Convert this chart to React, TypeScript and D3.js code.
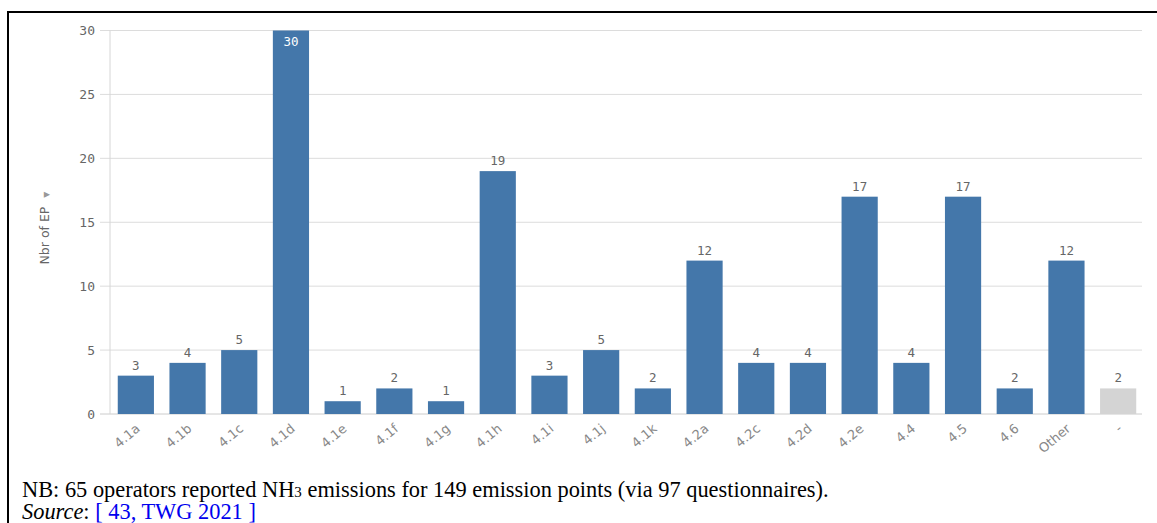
import React from "react";
import * as d3 from "d3";

const categories = ["4.1a","4.1b","4.1c","4.1d","4.1e","4.1f","4.1g","4.1h","4.1i","4.1j","4.1k","4.2a","4.2c","4.2d","4.2e","4.4","4.5","4.6","Other","-"];
const values = [3,4,5,30,1,2,1,19,3,5,2,12,4,4,17,4,17,2,12,2];
const yTicks = [0,5,10,15,20,25,30];
const yTitle = "Nbr of EP";
const noteBefore = "NB: 65 operators reported NH";
const noteSub = "3";
const noteAfter = " emissions for 149 emission points (via 97 questionnaires).";
const sourceLabel = "Source";
const sourceLink = "[ 43, TWG 2021 ]";

const W = 1157, H = 523;
const left = 110, right = 1144, top = 30.5, bottom = 414;

export default function App() {
  const x = d3.scaleBand<string>().domain(categories).range([left, right]).paddingInner(0.3).paddingOuter(0.15);
  const y = d3.scaleLinear().domain([0, 30]).range([bottom, top]);
  const mono = "'DejaVu Sans Mono', monospace";
  const grey = "#666";
  return (
    <svg width={W} height={H} style={{ position: "fixed", left: 0, top: 0, background: "#fff" }} fontFamily={mono}>
      <rect x={0} y={0} width={W} height={H} fill="#fff" />
      <line x1={7} x2={W} y1={12} y2={12} stroke="#000" strokeWidth={2} />
      <line x1={8} x2={8} y1={11} y2={H} stroke="#000" strokeWidth={2} />
      {yTicks.map((t) => (
        <g key={t}>
          <line x1={100} x2={right - 2} y1={y(t)} y2={y(t)} stroke={t === 0 ? "#ccc" : "#dcdcdc"} strokeWidth={1} />
          <text x={95} y={y(t)} dy="0.35em" textAnchor="end" fontSize={13} fill={grey}>{t}</text>
        </g>
      ))}
      <line x1={left} x2={left} y1={top} y2={bottom} stroke="#d6d6d6" strokeWidth={1} />
      <text transform={`translate(49,${228}) rotate(-90)`} textAnchor="middle" fontSize={12.5} fill={grey} fontFamily="'DejaVu Sans', sans-serif">
        {yTitle}
        <tspan dx={9} fontSize={8} fill="#999">▼</tspan>
      </text>
      {categories.map((c, i) => {
        const v = values[i];
        const bx = x(c)!;
        const bw = x.bandwidth();
        const isGrey = c === "-";
        const inside = v === 30;
        return (
          <g key={c}>
            <rect x={bx} y={y(v)} width={bw} height={y(0) - y(v)} fill={isGrey ? "#d4d4d4" : "#4477aa"} />
            <text x={bx + bw / 2} y={inside ? y(v) + 15 : y(v) - 6} textAnchor="middle" fontSize={12.5} fill={inside ? "#fff" : grey}>{v}</text>
            <text transform={`translate(${bx + bw / 2 + 5},${bottom + 16}) rotate(-40)`} textAnchor="end" fontSize={13} fill="#888" fontFamily="'DejaVu Sans', sans-serif">{c}</text>
          </g>
        );
      })}
      <text x={22} y={497} fontFamily="'Liberation Serif', 'Times New Roman', serif" fontSize={22.4} fill="#000">
        {noteBefore}<tspan fontSize={15}>{noteSub}</tspan>{noteAfter}
      </text>
      <text x={22} y={519} fontFamily="'Liberation Serif', 'Times New Roman', serif" fontSize={22.4} fill="#000">
        <tspan fontStyle="italic">{sourceLabel}</tspan>: <tspan fill="#0000ee">{sourceLink}</tspan>
      </text>
    </svg>
  );
}
